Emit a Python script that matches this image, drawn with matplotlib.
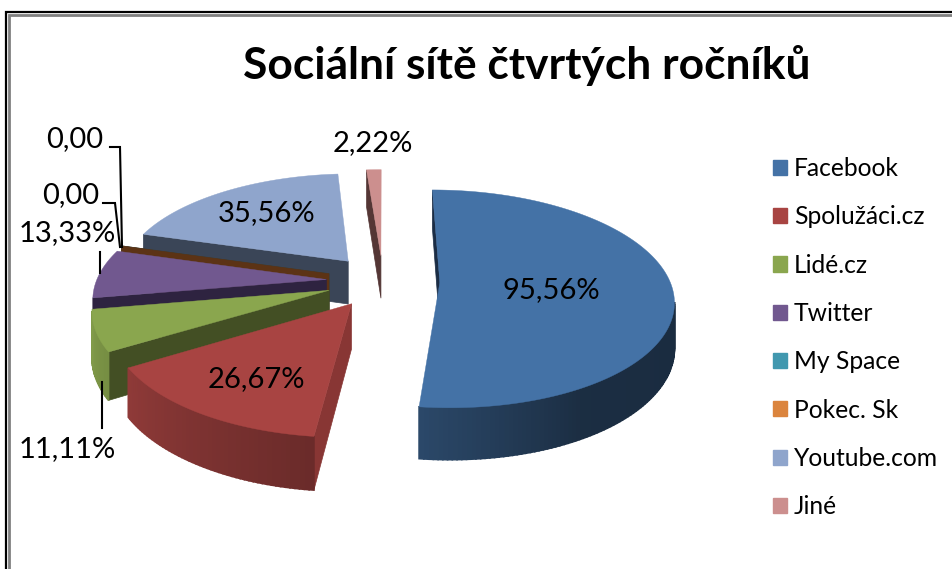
import numpy as np
import matplotlib
matplotlib.use('Agg')
import matplotlib.pyplot as plt
from matplotlib.patches import Polygon, Patch

plt.rcParams['font.family'] = ['Lato', 'DejaVu Sans']

names = ['Facebook', 'Spolužáci.cz', 'Lidé.cz', 'Twitter', 'My Space', 'Pokec. Sk', 'Youtube.com', 'Jiné']
values = [95.56, 26.67, 11.11, 13.33, 0.0, 0.0, 35.56, 2.22]
value_lbls = ['95,56%', '26,67%', '11,11%', '13,33%', '0,00', '0,00', '35,56%', '2,22%']

top_colors = ['#4472A6', '#A84442', '#8AA64E', '#71588F', '#4198AF', '#DB843D', '#8FA5CC', '#CC8F8E']
wall_colors = ['#1B2D45', '#883634', '#434F24', '#2E2340', '#1E4A55', '#5C3315', '#3A4557', '#543635']

# pie layout in pixels
cx, cy = 383, 281
rx, ry = 230, 106
persp = 0.15
explode = 0.247
depth = 44


def project(u, v):
    s = 1 / (1 + persp * v)
    return cx + rx * u * s, cy - ry * v * s, s


def rim_shade(th):
    return np.interp(th, [100, 150, 186, 238, 262, 300], [0.38, 0.40, 0.63, 0.85, 0.95, 0.95])


fig = plt.figure(figsize=(9.53, 5.69), dpi=100)
ax = fig.add_axes([0, 0, 1, 1])
ax.set_xlim(0, 953)
ax.set_ylim(569, 0)
ax.axis('off')

# window frame
ax.plot([6, 6, 953], [569, 12, 12], color='black', lw=1.6, solid_joinstyle='miter')
ax.plot([9.5, 9.5, 953], [569, 14.5, 14.5], color='#808080', lw=2, solid_joinstyle='miter')

angles = np.cumsum([0] + values) / sum(values) * 360
slices = {}
for i in range(len(values)):
    a0, a1 = angles[i], angles[i + 1]
    mid = np.radians((a0 + a1) / 2)
    ou, ov = explode * np.sin(mid), explode * np.cos(mid)
    th = np.linspace(a0, a1, max(int(a1 - a0), 1) + 1)
    xs, ys, ss = project(ou + np.sin(np.radians(th)), ov + np.cos(np.radians(th)))
    slices[i] = (th, xs, ys, ss) + project(ou, ov)

# back to front, Pokec goes over My Space
draw_order = [7, 6, 4, 5, 3, 2, 1, 0]
for n, i in enumerate(draw_order):
    th, xs, ys, ss, ax_, ay_, as_ = slices[i]
    z = 3 + n * 2
    top = np.array(matplotlib.colors.to_rgb(top_colors[i]))
    # radial wall on the starting edge
    if xs[0] < ax_:
        pts = [(ax_, ay_), (xs[0], ys[0]), (xs[0], ys[0] + depth * ss[0]), (ax_, ay_ + depth * as_)]
        ax.add_patch(Polygon(pts, closed=True, fc=wall_colors[i], ec=wall_colors[i], lw=0.5, zorder=z))
    # outer rim, one piece per degree
    for j in range(len(th) - 1):
        if xs[j + 1] < xs[j]:
            c = top * rim_shade((th[j] + th[j + 1]) / 2)
            pts = [(xs[j], ys[j]), (xs[j + 1], ys[j + 1]),
                   (xs[j + 1], ys[j + 1] + depth * ss[j + 1]), (xs[j], ys[j] + depth * ss[j])]
            ax.add_patch(Polygon(pts, closed=True, fc=c, ec=c, lw=1.2, zorder=z))
    if values[i] > 0:
        pts = [(ax_, ay_)] + list(zip(xs, ys))
        ax.add_patch(Polygon(pts, closed=True, fc=top_colors[i], ec=top_colors[i], lw=0.3, zorder=z + 1))

# data labels
lbl_pos = [(551, 290), (256, 379), (67, 449), (67, 233), (75, 139), (71, 195), (267, 213), (373, 143)]
for lbl, (x, y) in zip(value_lbls, lbl_pos):
    ax.text(x, y, lbl, fontsize=21, color='black', ha='center', va='center', zorder=40)

# leader lines
for lx, ly in [([110, 120, 122], [147, 147, 247]), ([103, 115, 120], [203, 203, 247]),
               ([100, 100], [252, 273]), ([102, 102], [382, 428])]:
    ax.plot(lx, ly, color='black', lw=1.5, zorder=30, solid_joinstyle='miter')

ax.text(527, 65, 'Sociální sítě čtvrtých ročníků', fontsize=31.9, fontweight='bold',
        ha='center', va='center')

handles = [Patch(fc=c, ec=c) for c in top_colors]
ax.legend(handles, names, loc='upper left', bbox_to_anchor=(773 / 953, 1 - 157 / 569),
          frameon=False, fontsize=17.7, borderpad=0, borderaxespad=0,
          handlelength=0.57, handleheight=0.57, handletextpad=0.28, labelspacing=1.03)

fig.savefig('out.png', dpi=100)
